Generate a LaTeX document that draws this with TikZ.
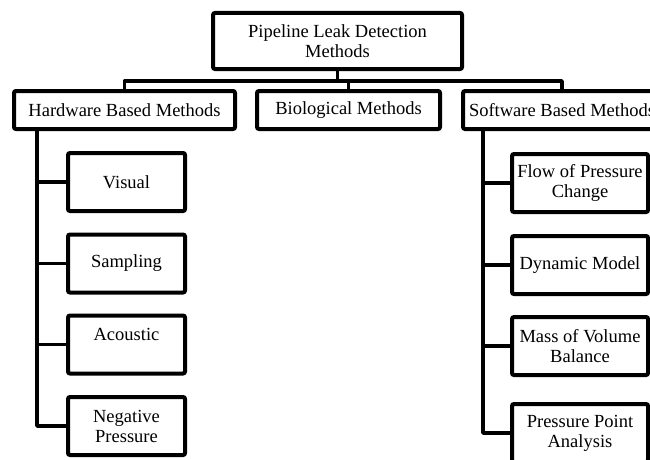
\documentclass[tikz,border=0pt]{standalone}
\usepackage{fontspec}
\setmainfont{Liberation Serif}
\begin{document}
\begin{tikzpicture}[x=1pt,y=-1pt,
    box/.style={draw,line width=4pt,rounded corners=2pt,align=center,inner sep=2pt,
      font=\fontsize{18.5}{20}\selectfont},
    leaf/.style={box,minimum width=117pt,minimum height=58pt},
    sleaf/.style={box,minimum width=136pt,minimum height=58pt},
    link/.style={line width=3.5pt,line join=round}]
    \useasboundingbox (0,0) rectangle (650,460);

    % top levels
    \node[box,minimum width=249pt,minimum height=56pt] (root) at (337.5,41) {Pipeline Leak Detection\\Methods};
    \node[box,minimum width=221pt,minimum height=38pt] (hw) at (124.5,110) {Hardware Based Methods};
    \node[box,minimum width=183pt,minimum height=38pt] (bio) at (348.5,110) {Biological Methods};
    \node[box,minimum width=198pt,minimum height=38pt] (sw) at (562,110) {Software Based Methods};

    \coordinate (bus) at (0,81);
    \draw[link] (root.south) -- (root.south |- bus);
    \draw[link] (hw.north) -- (hw.north |- bus) -- (sw.north |- bus) -- (sw.north);
    \draw[link] (bio.north) -- (bio.north |- bus);

    % hardware branch
    \foreach \name/\txt/\y in {vis/Visual/182,sam/Sampling/263.5,
                               aco/{Acoustic\\\mbox{}}/344.5,neg/{Negative\\Pressure}/426}
      \node[leaf] (\name) at (126.5,\y) {\txt};
    \coordinate (hwspine) at (37,129);
    \draw[link] (hwspine) |- (neg.west);
    \foreach \name in {vis,sam,aco}
      \draw[link] (\name.west -| hwspine) -- (\name.west);

    % software branch
    \foreach \name/\txt/\y in {fpc/{Flow of Pressure\\Change}/183,dyn/{Dynamic Model}/265,
                               mvb/{Mass of Volume\\Balance}/346,ppa/{Pressure Point\\Analysis}/433}
      \node[sleaf] (\name) at (580,\y) {\txt};
    \coordinate (swspine) at (483,129);
    \draw[link] (swspine) |- (ppa.west);
    \foreach \name in {fpc,dyn,mvb}
      \draw[link] (\name.west -| swspine) -- (\name.west);
\end{tikzpicture}
\end{document}
